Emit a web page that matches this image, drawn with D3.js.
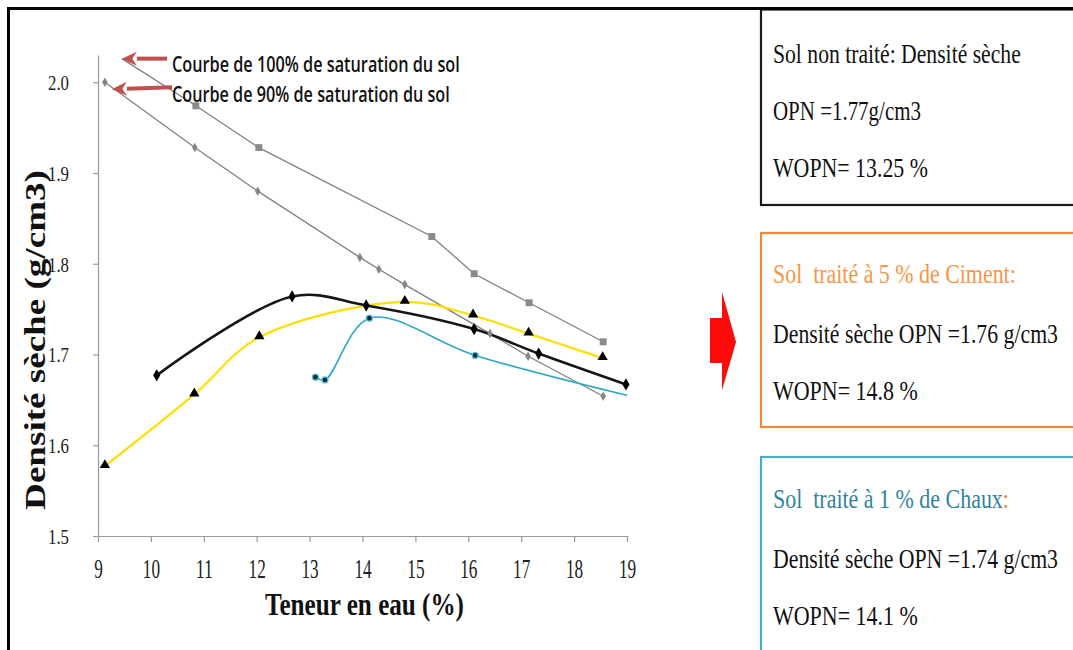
<!DOCTYPE html>
<html>
<head>
<meta charset="utf-8">
<script src="https://cdn.jsdelivr.net/npm/d3@7"></script>
<style>
  html, body { margin: 0; padding: 0; background: #fff; }
  svg { display: block; }
  text { white-space: pre; }
</style>
</head>
<body>
<svg id="chart" width="1073" height="650"></svg>
<script>
// ---------------- DATA ----------------
const xTicks = [9, 10, 11, 12, 13, 14, 15, 16, 17, 18, 19];
const yTicks = [1.5, 1.6, 1.7, 1.8, 1.9, 2.0];

// Saturation curves
const sat100X = [9.45, 10.85, 12.04, 15.31, 16.11, 17.15, 18.55];
const sat100Y = [2.026, 1.974, 1.928, 1.830, 1.789, 1.757, 1.714];
const sat90X = [9.13, 10.83, 12.02, 13.95, 14.31, 14.80, 16.41, 17.13, 18.55];
const sat90Y = [2.000, 1.928, 1.880, 1.807, 1.794, 1.777, 1.723, 1.698, 1.654];

// Proctor curves
const untreatedX = [10.11, 12.67, 14.07, 16.11, 17.33, 18.98];
const untreatedY = [1.677, 1.764, 1.754, 1.728, 1.701, 1.667];
const cementX = [9.13, 10.82, 12.05, 14.80, 16.09, 17.14, 18.54];
const cementY = [1.577, 1.656, 1.719, 1.758, 1.743, 1.723, 1.696];
const limeX = [13.11, 13.29, 14.13, 16.13, 19.0];
const limeY = [1.675, 1.672, 1.740, 1.699, 1.655];
const limeMarkers = [1, 1, 1, 1, 0];

const legendLabels = ["Courbe de 100% de saturation du sol", "Courbe de 90% de saturation du sol"];
const xTitle = "Teneur en eau (%)";
const yTitle = "Densité sèche (g/cm3)";

const box1Lines = ["Sol non traité: Densité sèche", "OPN =1.77g/cm3", "WOPN= 13.25 %"];
const box2Lines = ["Sol  traité à 5 % de Ciment:", "Densité sèche OPN =1.76 g/cm3", "WOPN= 14.8 %"];
const box3Lines = ["Sol  traité à 1 % de Chaux", "Densité sèche OPN =1.74 g/cm3", "WOPN= 14.1 %"];

// ---------------- DRAW ----------------
const SERIF = "'Liberation Serif', 'Times New Roman', serif";
const svg = d3.select("#chart");
const x = d3.scaleLinear().domain([9, 19]).range([98, 627]);
const y = d3.scaleLinear().domain([1.5, 2.03]).range([536, 55]);
const zip = (xs, ys) => xs.map((v, i) => ({x: v, y: ys[i], i}));

// fit a text horizontally to a target width (keeps a true bounding box)
function fit(sel, tx, ty, width, rot) {
  const natural = sel.node().getComputedTextLength();
  const sx = width / natural;
  sel.attr("transform", `translate(${tx},${ty})${rot ? ` rotate(${rot})` : ""} scale(${sx},1)`);
  return sel;
}

// outer frame (left + top)
svg.append("path").attr("d", "M8.5,660 V8.5 H1085")
  .attr("fill", "none").attr("stroke", "#000").attr("stroke-width", 3);

// axes
const axisColor = "#9a9a9a";
const gx = svg.append("g").attr("transform", "translate(0,536)")
  .call(d3.axisBottom(x).tickValues(xTicks).tickSize(6).tickSizeOuter(0).tickFormat(d3.format("d")));
const gy = svg.append("g").attr("transform", "translate(98,0)")
  .call(d3.axisLeft(y).tickValues(yTicks).tickSize(5).tickSizeOuter(0).tickFormat(d3.format(".1f")));
[gx, gy].forEach(g => {
  g.attr("font-family", SERIF);
  g.select(".domain").attr("stroke", axisColor).attr("stroke-width", 1.2);
  g.selectAll(".tick line").attr("stroke", axisColor).attr("stroke-width", 1.2);
  g.selectAll(".tick text").attr("fill", "#222").style("font-family", SERIF);
});
gx.selectAll(".tick text").attr("font-size", 27).attr("y", 42).attr("dy", 0)
  .attr("textLength", d => String(d).length * 8.6).attr("lengthAdjust", "spacingAndGlyphs");
gy.selectAll(".tick text").attr("font-size", 22).attr("x", -29).attr("dy", "0.34em")
  .attr("textLength", 21).attr("lengthAdjust", "spacingAndGlyphs");

// axis titles
fit(svg.append("text")
  .style("font-family", SERIF).attr("font-weight", "bold").attr("font-size", 31)
  .attr("fill", "#111").text(xTitle), 265, 615, 199);
fit(svg.append("text").attr("text-anchor", "middle")
  .style("font-family", SERIF).attr("font-weight", "bold").attr("font-size", 29)
  .attr("fill", "#111").text(yTitle), 45, 340, 340, -90);

// lines
const linear = d3.line().x(d => x(d.x)).y(d => y(d.y));
const smooth = d3.line().x(d => x(d.x)).y(d => y(d.y)).curve(d3.curveCatmullRom.alpha(0.5));

svg.append("path").datum(zip(sat100X, sat100Y)).attr("d", linear)
  .attr("fill", "none").attr("stroke", "#808080").attr("stroke-width", 1.3);
svg.append("path").datum(zip(sat90X, sat90Y)).attr("d", linear)
  .attr("fill", "none").attr("stroke", "#808080").attr("stroke-width", 1.3);
svg.append("path").datum(zip(cementX, cementY)).attr("d", smooth)
  .attr("fill", "none").attr("stroke", "#ffde00").attr("stroke-width", 2.2);
svg.append("path").datum(zip(limeX, limeY)).attr("d", smooth)
  .attr("fill", "none").attr("stroke", "#2ea7c7").attr("stroke-width", 1.6);
svg.append("path").datum(zip(untreatedX, untreatedY)).attr("d", smooth)
  .attr("fill", "none").attr("stroke", "#161616").attr("stroke-width", 2.6);

// markers
const sym = (type, size) => d3.symbol().type(type).size(size);
svg.append("g").selectAll("path").data(zip(sat100X, sat100Y).slice(1)).join("path")
  .attr("transform", d => `translate(${x(d.x)},${y(d.y)})`)
  .attr("d", sym(d3.symbolSquare, 48)).attr("fill", "#8a8a8a");
svg.append("g").selectAll("path").data(zip(sat90X, sat90Y)).join("path")
  .attr("transform", d => `translate(${x(d.x)},${y(d.y)})`)
  .attr("d", sym(d3.symbolDiamond, 26)).attr("fill", "#858585");
svg.append("g").selectAll("path").data(zip(cementX, cementY)).join("path")
  .attr("transform", d => `translate(${x(d.x)},${y(d.y) - 1})`)
  .attr("d", sym(d3.symbolTriangle, 46)).attr("fill", "#000");
svg.append("g").selectAll("circle").data(zip(limeX, limeY).filter(d => limeMarkers[d.i])).join("circle")
  .attr("cx", d => x(d.x)).attr("cy", d => y(d.y)).attr("r", 3)
  .attr("fill", "#0c2d38").attr("stroke", "#58c2dc").attr("stroke-width", 1.3);
svg.append("g").selectAll("path").data(zip(untreatedX, untreatedY)).join("path")
  .attr("transform", d => `translate(${x(d.x)},${y(d.y)})`)
  .attr("d", sym(d3.symbolDiamond, 44)).attr("fill", "#000");

// legend arrows + texts
const arrowColor = "#c0504d";
const arrows = [
  {tx: x(sat100X[0]), ty: y(sat100Y[0]), ex: 167, ey: y(sat100Y[0])},
  {tx: x(sat90X[0]) + 7, ty: y(sat90Y[0]) + 7, ex: 172, ey: y(sat90Y[0]) + 5}
];
arrows.forEach(a => {
  const ang = Math.atan2(a.ey - a.ty, a.ex - a.tx);
  const hl = 15, hw = 7;
  const bx = a.tx + hl * Math.cos(ang), by = a.ty + hl * Math.sin(ang);
  svg.append("line").attr("x1", bx).attr("y1", by).attr("x2", a.ex).attr("y2", a.ey)
    .attr("stroke", arrowColor).attr("stroke-width", 4);
  const px = -Math.sin(ang) * hw, py = Math.cos(ang) * hw;
  svg.append("path")
    .attr("d", `M${a.tx},${a.ty} L${bx + px},${by + py} L${bx - 0.3 * (bx - a.tx)},${by - 0.3 * (by - a.ty)} L${bx - px},${by - py} Z`)
    .attr("fill", arrowColor);
});
[[72, 288], [102, 278]].forEach(([yy, w], i) => {
  fit(svg.append("text")
    .style("font-family", "'Open Sans', sans-serif").attr("font-weight", 600).attr("font-size", 21)
    .attr("fill", "#111").text(legendLabels[i]), 172, yy, w);
});

// red block arrow
svg.append("path").attr("d", "M710,318 H722 V292 L736,342 L722,390 V363 H710 Z").attr("fill", "#ff0a0a");

// info boxes
const boxes = [
  {top: 9.5, bottom: 205, stroke: "#1a1a1a", lines: box1Lines, base: [63, 120, 177], widths: [248, 148, 155], colors: ["#111", "#111", "#111"]},
  {top: 233, bottom: 427, stroke: "#f0883a", lines: box2Lines, base: [283, 343, 400], widths: [243, 285, 145], colors: ["#f79646", "#111", "#111"]},
  {top: 457, bottom: 700, stroke: "#4bacc6", lines: box3Lines, base: [508, 568, 625], widths: [236, 285, 145], colors: ["#31849b", "#111", "#111"]}
];
boxes.forEach((b, bi) => {
  svg.append("rect").attr("x", 761).attr("y", b.top).attr("width", 400).attr("height", b.bottom - b.top)
    .attr("fill", "#fff").attr("stroke", b.stroke).attr("stroke-width", 2.2);
  b.lines.forEach((t, i) => {
    const tx = svg.append("text")
      .style("font-family", SERIF).attr("font-size", 28)
      .attr("fill", b.colors[i]);
    tx.append("tspan").text(t);
    if (bi === 2 && i === 0) tx.append("tspan").attr("fill", "#e8823a").text(":");
    fit(tx, 773, b.base[i], b.widths[i]);
  });
});
// redraw frame top over box 1
svg.append("path").attr("d", "M8.5,8.5 H1085").attr("stroke", "#000").attr("stroke-width", 3);
</script>
</body>
</html>
